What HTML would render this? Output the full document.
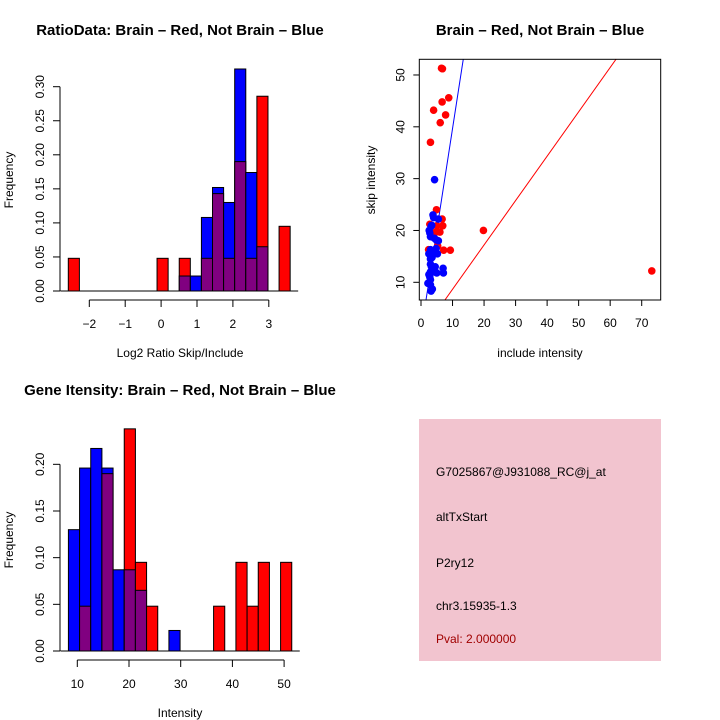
<!DOCTYPE html>
<html><head><meta charset="utf-8"><style>
body{margin:0;background:#fff}
svg{display:block;font-family:"Liberation Sans",sans-serif}
</style></head><body>
<svg id="c" width="720" height="720" viewBox="0 0 720 720">
<rect x="0" y="0" width="720" height="720" fill="#fff"/>
<text x="180" y="35" font-size="15" font-weight="bold" text-anchor="middle">RatioData: Brain – Red, Not Brain – Blue</text>
<text x="540" y="35" font-size="15" font-weight="bold" text-anchor="middle">Brain – Red, Not Brain – Blue</text>
<text x="180" y="395" font-size="15" font-weight="bold" text-anchor="middle">Gene Itensity: Brain – Red, Not Brain – Blue</text>
<text x="180" y="357" font-size="12" text-anchor="middle">Log2 Ratio Skip/Include</text>
<text x="13" y="180" font-size="12" text-anchor="middle" transform="rotate(-90 13 180)">Frequency</text>
<text x="540" y="357" font-size="12" text-anchor="middle">include intensity</text>
<text x="375" y="180" font-size="12" text-anchor="middle" transform="rotate(-90 375 180)">skip intensity</text>
<text x="180" y="717" font-size="12" text-anchor="middle">Intensity</text>
<text x="13" y="540" font-size="12" text-anchor="middle" transform="rotate(-90 13 540)">Frequency</text>
<g>
<rect x="419" y="419" width="242" height="242" fill="#f2c4cf"/>
<text x="436" y="476" font-size="12">G7025867@J931088_RC@j_at</text>
<text x="436" y="521" font-size="12">altTxStart</text>
<text x="436" y="567" font-size="12">P2ry12</text>
<text x="436" y="610" font-size="12">chr3.15935-1.3</text>
<text x="436" y="643" font-size="12" fill="#a00000">Pval: 2.000000</text>
</g>
</svg>
<script>
// Ratio histogram data
const ratioBreakStart = -2.585;
const ratioBinWidth = 0.309;
const ratioRed = [0.048,0,0,0,0,0,0,0,0.048,0,0.048,0,0.048,0.143,0.048,0.19,0.048,0.286,0,0.095];
const ratioBlue = [0,0,0,0,0,0,0,0,0,0,0.022,0.022,0.108,0.152,0.130,0.326,0.174,0.065,0,0];
const ratioXTicks = [-2,-1,0,1,2,3];
const ratioYTicks = [0,0.05,0.10,0.15,0.20,0.25,0.30];
// Intensity histogram data
const intBreakStart = 8.28;
const intBinWidth = 2.16;
const intRed = [0,0.048,0,0.19,0,0.238,0.095,0.048,0,0,0,0,0,0.048,0,0.095,0.048,0.095,0,0.095];
const intBlue = [0.13,0.196,0.217,0.196,0.087,0.087,0.065,0,0,0.022,0,0,0,0,0,0,0,0,0,0];
const intXTicks = [10,20,30,40,50];
const intYTicks = [0,0.05,0.10,0.15,0.20];
// Scatter data
const redX = [6.8,6.5,4,6.7,8.8,7.8,6.1,3,4.9,6.7,2.8,6.9,5.0,6.0,4.5,19.8,7.2,9.3,2.4,5.3,73.2];
const redY = [51.2,51.3,43.2,44.8,45.6,42.3,40.8,37,24,22.2,21.2,20.9,20.9,19.7,19.6,20,16.2,16.2,16.3,17,12.2];
const blueX = [4.3,3.8,4,5.5,3.2,2.8,3,4.2,5.5,4.8,3,3.5,2.5,4.8,5.2,3,3,3.3,4.5,3,2.5,3.8,5,7,7.1,3,2.2,3,3.6,3.2,2.8,3.5,3.4,2.6];
const blueY = [29.8,23,22.5,22.2,20.8,19.5,18.8,18.5,18,18.2,16.3,16,15.5,16.5,15.5,14.5,13.5,13,13,12,11.5,12,11.8,12.7,11.8,10.5,9.8,9.5,8.7,8.3,11,14.8,21,20];
const scatterXTicks = [0,10,20,30,40,50,60,70];
const scatterYTicks = [10,20,30,40,50];
const blueLine = [0.35,3.93];
const redLine = [0.09,0.856];

const NS='http://www.w3.org/2000/svg';
const svg=document.getElementById('c');
function mk(tag,attrs,parent){const e=document.createElementNS(NS,tag);for(const k in attrs)e.setAttribute(k,attrs[k]);(parent||svg).appendChild(e);return e;}

function hist(opt){
  const g=mk('g',{});
  
  
  const sx=v=>opt.x0+(v-opt.xv0)*opt.xs;
  const sy=v=>opt.y0-v*opt.ys;
  for(let i=0;i<opt.red.length;i++){
    const a=opt.bs+i*opt.bw,b=a+opt.bw;
    const r=opt.red[i],bl=opt.blue[i];
    const mx=Math.max(r,bl),mn=Math.min(r,bl);
    if(mx<=0)continue;
    const x1=sx(a),x2=sx(b);
    const rc=mk('rect',{x:x1,y:sy(mx),width:x2-x1,height:sy(0)-sy(mx),fill:r>=bl?'#ff0000':'#0000ff',stroke:'#000','stroke-width':1},g);
    
    
    if(mn>0){
      const pc=mk('rect',{x:x1,y:sy(mn),width:x2-x1,height:sy(0)-sy(mn),fill:'#800080',stroke:'#000','stroke-width':1},g);
      
      
    }
  }
  const bl=mk('line',{x1:sx(opt.bs)-8,x2:sx(opt.bs+opt.bw*opt.red.length)+8,y1:sy(0),y2:sy(0),stroke:'#000'},g);
  
  
  const ya=mk('g',{},g);
  
  
  const yt=opt.yt;
  mk('line',{x1:opt.yx,x2:opt.yx,y1:sy(yt[0]),y2:sy(yt[yt.length-1]),stroke:'#000'},ya);
  yt.forEach(v=>{
    mk('line',{x1:opt.yx-7,x2:opt.yx,y1:sy(v),y2:sy(v),stroke:'#000'},ya);
    const t=mk('text',{x:opt.yx-16,y:sy(v),'font-size':12,'text-anchor':'middle',transform:`rotate(-90 ${opt.yx-16} ${sy(v)})`},ya);
    t.textContent=v.toFixed(2);
  });
  const xa=mk('g',{},g);
  
  
  const xt=opt.xt;
  mk('line',{x1:sx(xt[0]),x2:sx(xt[xt.length-1]),y1:opt.xy,y2:opt.xy,stroke:'#000'},xa);
  xt.forEach(v=>{
    mk('line',{x1:sx(v),x2:sx(v),y1:opt.xy,y2:opt.xy+7,stroke:'#000'},xa);
    const t=mk('text',{x:sx(v),y:opt.xy+28,'font-size':12,'text-anchor':'middle'},xa);
    t.textContent=String(v).replace('-','−');
  });
}
hist({name:'ratio-histogram',red:ratioRed,blue:ratioBlue,bs:ratioBreakStart,bw:ratioBinWidth,x0:89.3,xv0:-2,xs:35.9,y0:291,ys:681,yt:ratioYTicks,xt:ratioXTicks,yx:60,xy:300});
hist({name:'intensity-histogram',red:intRed,blue:intBlue,bs:intBreakStart,bw:intBinWidth,x0:77.3,xv0:10,xs:5.17,y0:651,ys:933.4,yt:intYTicks,xt:intXTicks,yx:60,xy:660});

const sg=mk('g',{});


const px=v=>421+v*3.153, py=v=>282.3-(v-10)*5.183;
const L=419.3,R=660.7,T=59.3,B=300;
mk('defs',{},sg).innerHTML='<clipPath id="sc"><rect x="419.3" y="59.3" width="241.4" height="240.7"/></clipPath>';
const cg=mk('g',{'clip-path':'url(#sc)'},sg);
function ln(p,col,name){
  const xa=-10,xb=90;
  const l=mk('line',{x1:px(xa),y1:py(p[0]+p[1]*xa),x2:px(xb),y2:py(p[0]+p[1]*xb),stroke:col,'stroke-width':1},cg);
  
  
}
ln(blueLine,'#0000ff','blue-fit-line');
ln(redLine,'#ff0000','red-fit-line');
redX.forEach((x,i)=>{
  const c=mk('circle',{cx:px(x),cy:py(redY[i]),r:3.8,fill:'#ff0000'},cg);
  
  
});
blueX.forEach((x,i)=>{
  const c=mk('circle',{cx:px(x),cy:py(blueY[i]),r:3.8,fill:'#0000ff'},cg);
  
  
});
const box=mk('rect',{x:L,y:T,width:R-L,height:B-T,fill:'none',stroke:'#000'},sg);


const sxa=mk('g',{},sg);


scatterXTicks.forEach(v=>{
  mk('line',{x1:px(v),x2:px(v),y1:B,y2:B+6,stroke:'#000'},sxa);
  const t=mk('text',{x:px(v),y:B+27,'font-size':12,'text-anchor':'middle'},sxa);
  t.textContent=v;
});
const sya=mk('g',{},sg);


scatterYTicks.forEach(v=>{
  mk('line',{x1:L-6,x2:L,y1:py(v),y2:py(v),stroke:'#000'},sya);
  const t=mk('text',{x:L-15,y:py(v),'font-size':12,'text-anchor':'middle',transform:`rotate(-90 ${L-15} ${py(v)})`},sya);
  t.textContent=v;
});
</script>
</body></html>
